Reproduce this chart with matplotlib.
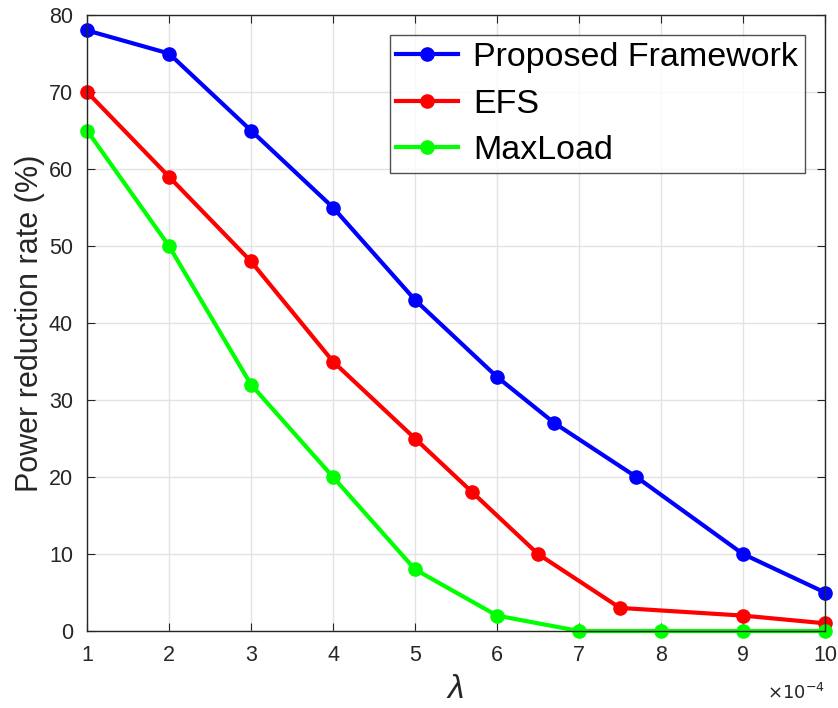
import numpy as np
import matplotlib.pyplot as plt

plt.rcParams['font.family'] = ['Liberation Sans', 'DejaVu Sans']

# lambda values (x 1e-4) and power reduction rate (%)
x_prop = [1, 2, 3, 4, 5, 6, 6.7, 7.7, 9, 10]
y_prop = [78, 75, 65, 55, 43, 33, 27, 20, 10, 5]

x_efs = [1, 2, 3, 4, 5, 5.7, 6.5, 7.5, 9, 10]
y_efs = [70, 59, 48, 35, 25, 18, 10, 3, 2, 1]

x_max = [1, 2, 3, 4, 5, 6, 7, 8, 9, 10]
y_max = [65, 50, 32, 20, 8, 2, 0, 0, 0, 0]

fig = plt.figure(figsize=(8.38, 7.08), dpi=100)
ax = fig.add_axes([87/838, 1 - 631/708, (825-87)/838, (631-15)/708])

ax.plot(x_prop, y_prop, '-o', color='#0000ff', lw=3, ms=9.5, label='Proposed Framework', clip_on=False)
ax.plot(x_efs, y_efs, '-o', color='#ff0000', lw=3, ms=9.5, label='EFS', clip_on=False)
ax.plot(x_max, y_max, '-o', color='#00ff00', lw=3, ms=9.5, label='MaxLoad', clip_on=False)

ax.set_xlim(1, 10)
ax.set_ylim(0, 80)
ax.set_xticks(np.arange(1, 11, 1))
ax.set_yticks(np.arange(0, 81, 10))
ax.grid(True, color='#e3e3e3', lw=1)
ax.set_axisbelow(True)
ax.tick_params(direction='in', length=6, labelsize=15.5, top=True, right=True,
               colors='#262626', pad=10)
for s in ax.spines.values():
    s.set_color('#262626')
    s.set_linewidth(1)

ax.set_ylabel('Power reduction rate (%)', fontsize=22, color='#262626', labelpad=3)
# x label placed by hand so it sits near the bottom edge like the original
fig.text(456/838, 3/708, 'λ', fontsize=24, fontstyle='italic', color='#262626',
         ha='center', va='bottom')
ax.text(1.0, -0.085, r'$\times10^{-4}$', transform=ax.transAxes, ha='right',
        va='top', fontsize=13, color='#262626')

leg = ax.legend(loc='upper right', fontsize=24.5, frameon=True, fancybox=False,
                edgecolor='#262626', handlelength=1.8, borderaxespad=0.6,
                handletextpad=0.45, labelspacing=0.45, borderpad=0.2)
leg.get_frame().set_linewidth(1)

fig.savefig('out.png', dpi=100)
